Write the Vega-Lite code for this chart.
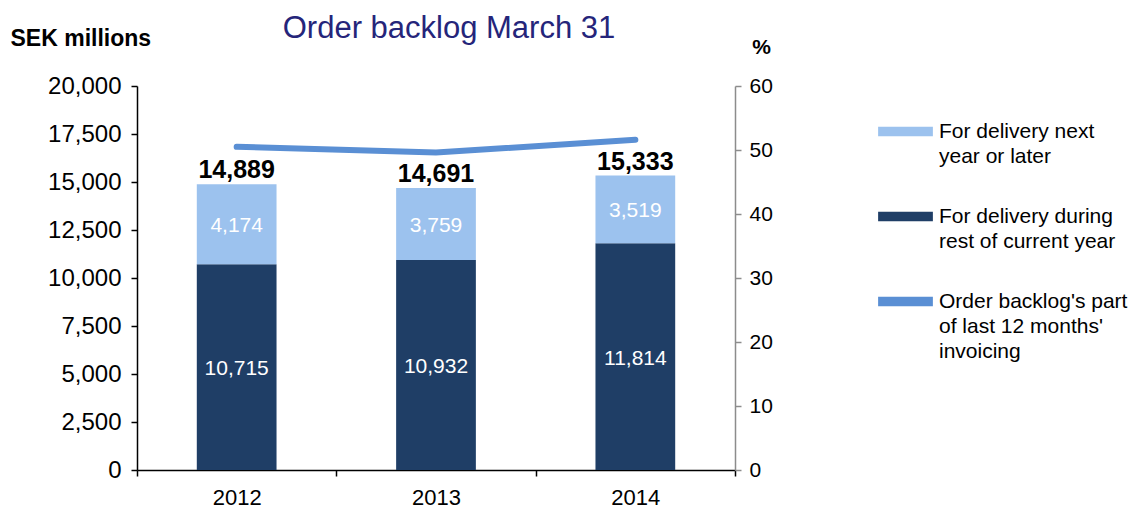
{
  "$schema": "https://vega.github.io/schema/vega-lite/v6.json",
  "width": 598,
  "height": 384,
  "autosize": "none",
  "padding": {"left": 137, "top": 86, "right": 399, "bottom": 41},
  "background": "white",
  "config": {
    "font": "Liberation Sans",
    "view": {"stroke": null},
    "axis": {"grid": false, "labelFont": "Liberation Sans", "titleFont": "Liberation Sans"}
  },
  "title": {
    "text": "Order backlog March 31",
    "fontSize": 31,
    "fontWeight": "normal",
    "color": "#25257A",
    "anchor": "middle",
    "frame": "group",
    "dx": 13,
    "offset": 0,
    "dy": 18
  },
  "datasets": {
    "bars": [
      {"year": "2012", "series": "For delivery during rest of current year", "value": 10715, "order": 1},
      {"year": "2012", "series": "For delivery next year or later", "value": 4174, "order": 2},
      {"year": "2013", "series": "For delivery during rest of current year", "value": 10932, "order": 1},
      {"year": "2013", "series": "For delivery next year or later", "value": 3759, "order": 2},
      {"year": "2014", "series": "For delivery during rest of current year", "value": 11814, "order": 1},
      {"year": "2014", "series": "For delivery next year or later", "value": 3519, "order": 2}
    ],
    "totals": [
      {"year": "2012", "total": 14889},
      {"year": "2013", "total": 14691},
      {"year": "2014", "total": 15333}
    ],
    "line": [
      {"year": "2012", "series": "Order backlog's part of last 12 months' invoicing", "pct": 50.5},
      {"year": "2013", "series": "Order backlog's part of last 12 months' invoicing", "pct": 49.6},
      {"year": "2014", "series": "Order backlog's part of last 12 months' invoicing", "pct": 51.6}
    ]
  },
  "encoding": {
    "x": {
      "field": "year",
      "type": "ordinal",
      "scale": {"paddingInner": 0, "paddingOuter": 0},
      "axis": {
        "title": null,
        "labelAngle": 0,
        "labelFontSize": 22,
        "labelColor": "#000000",
        "labelPadding": 11,
        "domainColor": "#000000",
        "domainWidth": 1.5,
        "tickColor": "#000000",
        "tickWidth": 1.5,
        "tickSize": 6,
        "tickBand": "extent"
      }
    }
  },
  "layer": [
    {
      "layer": [
        {
          "data": {"name": "bars"},
          "mark": {"type": "bar", "width": {"band": 0.4}},
          "encoding": {
            "y": {
              "field": "value",
              "type": "quantitative",
              "stack": "zero",
              "scale": {"domain": [0, 20000]},
              "axis": {
                "title": "SEK millions",
                "titleAngle": 0,
                "titleAlign": "left",
                "titleBaseline": "middle",
                "titleX": -127,
                "titleY": -48,
                "titleFontSize": 23,
                "titleFontWeight": "bold",
                "titleColor": "#000000",
                "values": [0, 2500, 5000, 7500, 10000, 12500, 15000, 17500, 20000],
                "format": ",d",
                "labelFontSize": 24,
                "labelColor": "#000000",
                "labelPadding": 10,
                "domainColor": "#000000",
                "domainWidth": 1.5,
                "tickColor": "#000000",
                "tickWidth": 1.5,
                "tickSize": 6
              }
            },
            "color": {
              "field": "series",
              "type": "nominal",
              "scale": {
                "domain": ["For delivery next year or later", "For delivery during rest of current year", "Order backlog's part of last 12 months' invoicing"],
                "range": ["#9CC2EE", "#1F3E66", "#5A8FD4"]
              },
              "legend": {
                "orient": "none",
                "legendX": 741,
                "legendY": 18,
                "title": null,
                "symbolType": "M-1,-0.17H1V0.17H-1Z",
                "symbolSize": 3000,
                "symbolStrokeWidth": 0,
                "labelFontSize": 21,
                "labelColor": "#000000",
                "labelBaseline": "top",
                "labelOffset": 6,
                "labelLimit": 300,
                "rowPadding": 22,
                "labelExpr": "datum.label == 'For delivery next year or later' ? ['For delivery next', 'year or later'] : datum.label == 'For delivery during rest of current year' ? ['For delivery during', 'rest of current year'] : ['Order backlog\\'s part', 'of last 12 months\\'', 'invoicing']",
                "encode": {
                  "labels": {"update": {"lineHeight": {"value": 25}, "dy": {"value": -11}}}
                }
              }
            },
            "order": {"field": "order", "type": "quantitative"}
          }
        },
        {
          "data": {"name": "bars"},
          "transform": [
            {"stack": "value", "groupby": ["year"], "sort": [{"field": "order"}], "as": ["v0", "v1"]},
            {"calculate": "(datum.v0 + datum.v1) / 2", "as": "mid"}
          ],
          "mark": {"type": "text", "color": "#FFFFFF", "fontSize": 21, "baseline": "middle", "dy": 2},
          "encoding": {
            "y": {"field": "mid", "type": "quantitative"},
            "text": {"field": "value", "type": "quantitative", "format": ","}
          }
        },
        {
          "data": {"name": "totals"},
          "mark": {"type": "text", "color": "#000000", "fontSize": 25, "fontWeight": "bold", "baseline": "alphabetic", "dy": -6},
          "encoding": {
            "y": {"field": "total", "type": "quantitative"},
            "text": {"field": "total", "type": "quantitative", "format": ","}
          }
        }
      ]
    },
    {
      "data": {"name": "line"},
      "mark": {"type": "line", "strokeWidth": 6, "strokeCap": "round"},
      "encoding": {
        "y": {
          "field": "pct",
          "type": "quantitative",
          "scale": {"domain": [0, 60]},
          "axis": {
            "orient": "right",
            "title": "%",
            "titleAngle": 0,
            "titleAlign": "center",
            "titleBaseline": "middle",
            "titleX": 26,
            "titleY": -39,
            "titleFontSize": 21,
            "titleFontWeight": "bold",
            "titleColor": "#000000",
            "values": [0, 10, 20, 30, 40, 50, 60],
            "labelFontSize": 21,
            "labelColor": "#000000",
            "labelPadding": 8,
            "domainColor": "#8C8C8C",
            "domainWidth": 1.5,
            "tickColor": "#8C8C8C",
            "tickWidth": 1.5,
            "tickSize": 6
          }
        },
        "color": {"field": "series", "type": "nominal"}
      }
    }
  ],
  "resolve": {"scale": {"y": "independent"}}
}
